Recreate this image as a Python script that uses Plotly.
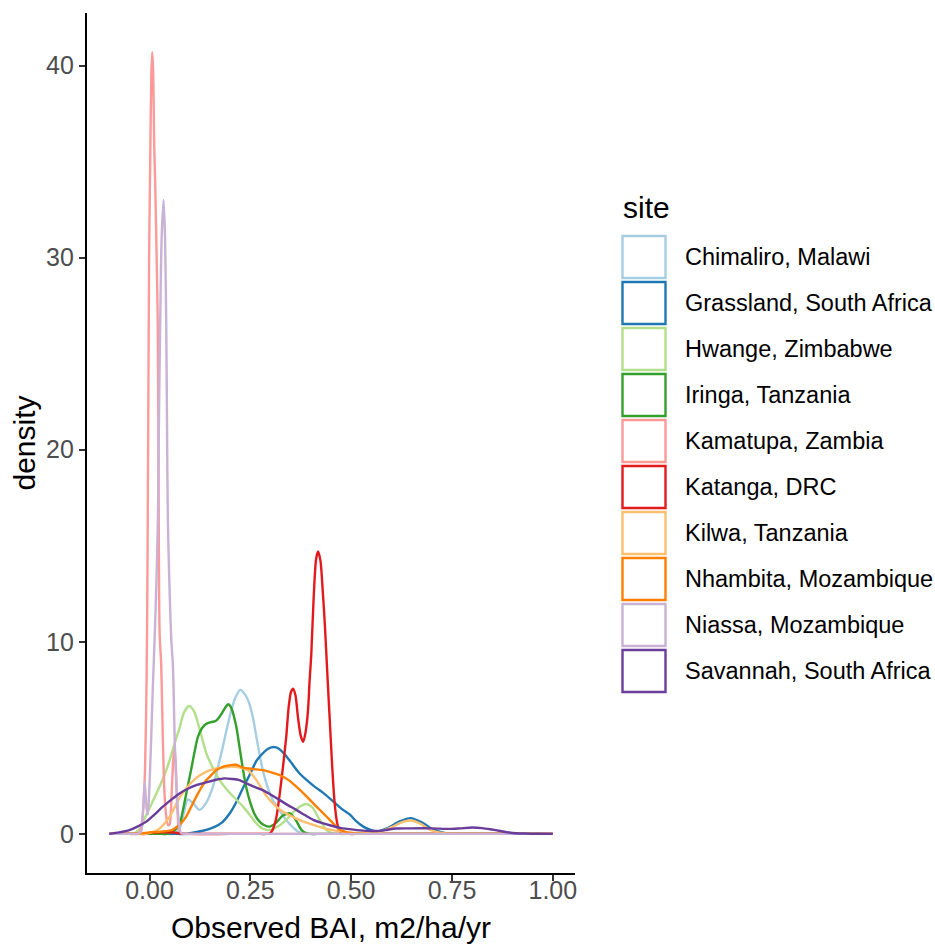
import plotly.graph_objects as go

# ---------------- data ----------------
sites = [
    "Chimaliro, Malawi", "Grassland, South Africa", "Hwange, Zimbabwe",
    "Iringa, Tanzania", "Kamatupa, Zambia", "Katanga, DRC",
    "Kilwa, Tanzania", "Nhambita, Mozambique", "Niassa, Mozambique",
    "Savannah, South Africa",
]
colors = ["#A6CEE3", "#1F78B4", "#B2DF8A", "#33A02C", "#FB9A99",
          "#E31A1C", "#FDBF6F", "#FF7F00", "#CAB2D6", "#6A3D9A"]

chimaliro_x = [-0.1, 0.0, 0.045, 0.06, 0.075, 0.085, 0.095, 0.108, 0.124, 0.14, 0.157, 0.17, 0.182,
               0.193, 0.203, 0.213, 0.225, 0.237, 0.248, 0.257, 0.265, 0.281, 0.295, 0.306, 0.323,
               0.339, 0.355, 0.368, 0.38, 0.395, 0.42, 0.6, 1.0]
chimaliro_y = [0, 0, 0, 0, 0.3, 1.1, 1.8, 1.6, 1.25, 1.6, 2.45, 3.5, 4.55,
               5.6, 6.45, 7.1, 7.5, 7.25, 6.75, 6.0, 5.05, 3.3, 2.3, 1.75, 1.2,
               0.72, 0.35, 0.12, 0.02, 0, 0, 0, 0]

grassland_x = [-0.1, 0.0, 0.07, 0.09, 0.11, 0.13, 0.16, 0.18, 0.2, 0.215, 0.232, 0.248, 0.265,
               0.281, 0.293, 0.306, 0.32, 0.335, 0.35, 0.37, 0.39, 0.41, 0.43, 0.455, 0.48,
               0.497, 0.513, 0.53, 0.55, 0.565, 0.59, 0.62, 0.648, 0.675, 0.704, 0.725, 0.745,
               0.76, 0.8, 1.0]
grassland_y = [0, 0, 0, 0, 0.08, 0.15, 0.35, 0.6, 1.1, 1.65, 2.4, 3.05, 3.8,
               4.2, 4.42, 4.52, 4.45, 4.15, 3.75, 3.2, 2.8, 2.45, 2.15, 1.7, 1.25,
               1.0, 0.65, 0.38, 0.2, 0.13, 0.3, 0.65, 0.82, 0.6, 0.22, 0.08, 0.01,
               0, 0, 0]

hwange_x = [-0.1, -0.07, -0.05, -0.04, -0.025, -0.01, 0.017, 0.035, 0.05, 0.065, 0.0745, 0.085,
            0.098, 0.11, 0.125, 0.141, 0.158, 0.174, 0.19, 0.205, 0.232, 0.25, 0.265, 0.28,
            0.295, 0.315, 0.335, 0.355, 0.375, 0.389, 0.405, 0.42, 0.439, 0.455, 0.47, 0.49,
            0.6, 1.0]
hwange_y = [0, 0, 0, 0, 0.25, 0.9, 2.1, 2.95, 3.84, 4.9, 5.5, 6.3,
            6.66, 6.4, 5.4, 4.19, 3.4, 2.8, 2.35, 2.0, 1.42, 0.95, 0.55, 0.28,
            0.2, 0.35, 0.65, 1.1, 1.45, 1.56, 1.35, 0.8, 0.2, 0.03, 0, 0,
            0, 0]

iringa_x = [-0.1, 0.0, 0.03, 0.045, 0.06, 0.0745, 0.083, 0.093, 0.103, 0.112, 0.12, 0.13, 0.141,
            0.153, 0.164, 0.172, 0.18, 0.187, 0.195, 0.203, 0.215, 0.224, 0.232, 0.24, 0.248,
            0.26, 0.273, 0.285, 0.298, 0.315, 0.33, 0.348, 0.362, 0.377, 0.39, 0.4, 0.415,
            0.6, 1.0]
iringa_y = [0, 0, 0, 0, 0.15, 0.5, 1.25, 2.3, 3.32, 4.3, 5.05, 5.5, 5.74,
            5.82, 5.88, 6.05, 6.3, 6.55, 6.75, 6.55, 5.6, 4.4, 3.32, 2.4, 1.76,
            1.05, 0.64, 0.45, 0.38, 0.6, 0.95, 1.07, 0.75, 0.2, 0.03, 0, 0,
            0, 0]

kamatupa_x = [-0.1, -0.06, -0.04, -0.03, -0.022, -0.016, -0.011, -0.007, -0.005, -0.003, -0.001,
              0.002, 0.0045, 0.0067, 0.009, 0.0115, 0.0145, 0.018, 0.0205, 0.0225, 0.025, 0.029,
              0.033, 0.037, 0.041, 0.046, 0.05, 0.053, 0.056, 0.059, 0.062, 0.065, 0.068, 0.072,
              0.076, 0.082, 0.095, 0.3, 1.0]
kamatupa_y = [0, 0, 0, 0, 0.2, 1.2, 3.5, 8.5, 14, 22, 30,
              35.5, 39.5, 40.7, 39.8, 36, 33.5, 29.6, 26.5, 18, 10.5, 8.8,
              5.0, 2.2, 1.0, 0.45, 0.5, 1.2, 2.6, 3.9, 4.45, 3.7, 1.8, 0.4,
              0.05, 0, 0, 0, 0]

katanga_x = [-0.1, -0.04, -0.02, -0.01, 0.0, 0.03, 0.06, 0.075, 0.09, 0.2, 0.275, 0.29, 0.298,
             0.305, 0.314, 0.323, 0.331, 0.339, 0.345, 0.351, 0.356, 0.362, 0.368, 0.375, 0.381,
             0.387, 0.393, 0.397, 0.401, 0.407, 0.413, 0.418, 0.424, 0.43, 0.435, 0.441, 0.447,
             0.453, 0.459, 0.465, 0.47, 0.477, 0.485, 0.495, 0.52, 0.7, 1.0]
katanga_y = [0, 0, 0, 0, 0.05, 0.08, 0.08, 0.02, 0, 0, 0, 0, 0.02,
             0.2, 0.8, 2.1, 3.5, 5.05, 6.6, 7.4, 7.56, 7.2, 6.09, 5.1, 4.79,
             5.3, 6.43, 8.0, 9.3, 12.3, 14.3, 14.7, 14.2, 12.5, 10.8, 8.3, 5.9,
             3.5, 1.6, 0.6, 0.2, 0.05, 0.01, 0, 0, 0, 0]

kilwa_x = [-0.1, -0.06, -0.03, -0.01, 0.02, 0.05, 0.075, 0.1, 0.125, 0.15, 0.17, 0.2, 0.225,
           0.245, 0.265, 0.29, 0.323, 0.364, 0.406, 0.447, 0.49, 0.53, 0.57, 0.6, 0.625, 0.646,
           0.67, 0.695, 0.72, 0.745, 0.76, 0.8, 1.0]
kilwa_y = [0, 0, 0, 0, 0.2, 0.9, 1.9, 2.6, 3.05, 3.32, 3.42, 3.5, 3.45,
           3.3, 2.8, 1.97, 1.27, 0.8, 0.47, 0.22, 0.08, 0.05, 0.1, 0.35, 0.6, 0.7,
           0.55, 0.22, 0.06, 0.01, 0, 0, 0]

nhambita_x = [-0.1, -0.07, -0.05, -0.04, -0.02, 0.0, 0.03, 0.055, 0.07, 0.08, 0.091, 0.103, 0.116,
              0.128, 0.141, 0.155, 0.166, 0.183, 0.2, 0.215, 0.232, 0.255, 0.281, 0.3, 0.323,
              0.345, 0.364, 0.385, 0.406, 0.427, 0.447, 0.46, 0.472, 0.49, 0.51, 0.54, 0.56,
              0.7, 1.0]
nhambita_y = [0, 0, 0, 0, 0.03, 0.08, 0.12, 0.2, 0.4, 0.6, 0.9, 1.4, 1.94,
              2.4, 2.8, 3.1, 3.32, 3.5, 3.58, 3.6, 3.45, 3.38, 3.32, 3.22, 3.06,
              2.8, 2.46, 2.05, 1.59, 1.15, 0.73, 0.45, 0.22, 0.08, 0.02, 0, 0,
              0, 0]

niassa_x = [-0.1, -0.06, -0.04, -0.03, -0.021, -0.017, -0.0135, -0.012, -0.0095, -0.007, -0.004,
            0.0, 0.004, 0.008, 0.0124, 0.017, 0.0207, 0.0237, 0.0265, 0.03, 0.035, 0.0385,
            0.0414, 0.0435, 0.0455, 0.05, 0.054, 0.058, 0.063, 0.068, 0.073, 0.078, 0.084,
            0.1, 0.3, 1.0]
niassa_y = [0, 0, 0, 0, 0.1, 0.8, 2.2, 2.7, 2.0, 1.3, 1.0,
            2.6, 4.9, 7.5, 10, 13, 16.3, 22, 26.7, 31, 33, 31,
            26.7, 21, 16.3, 12.5, 10.1, 8.8, 4.5, 2.0, 0.6, 0.05, 0,
            0, 0, 0]

savannah_x = [-0.1, -0.075, -0.05, -0.03, -0.008, 0.012, 0.033, 0.055, 0.0745, 0.095, 0.116, 0.145,
              0.165, 0.186, 0.205, 0.223, 0.24, 0.26, 0.281, 0.3, 0.323, 0.343, 0.364, 0.385,
              0.406, 0.427, 0.447, 0.47, 0.49, 0.515, 0.54, 0.563, 0.585, 0.61, 0.65, 0.7,
              0.745, 0.77, 0.8, 0.825, 0.845, 0.87, 0.9, 0.93, 0.96, 1.0]
savannah_y = [0, 0.08, 0.2, 0.38, 0.64, 1.0, 1.42, 1.8, 2.11, 2.35, 2.54, 2.71,
              2.82, 2.89, 2.86, 2.8, 2.63, 2.45, 2.28, 2.05, 1.76, 1.5, 1.25, 0.98,
              0.73, 0.57, 0.45, 0.33, 0.26, 0.2, 0.16, 0.15, 0.2, 0.28, 0.29, 0.29,
              0.26, 0.29, 0.33, 0.3, 0.24, 0.15, 0.05, 0.02, 0.005, 0]

series_x = [chimaliro_x, grassland_x, hwange_x, iringa_x, kamatupa_x,
            katanga_x, kilwa_x, nhambita_x, niassa_x, savannah_x]
series_y = [chimaliro_y, grassland_y, hwange_y, iringa_y, kamatupa_y,
            katanga_y, kilwa_y, nhambita_y, niassa_y, savannah_y]

x_ticks = [0.0, 0.25, 0.5, 0.75, 1.0]
x_tick_labels = ["0.00", "0.25", "0.50", "0.75", "1.00"]
y_ticks = [0, 10, 20, 30, 40]
y_tick_labels = ["0", "10", "20", "30", "40"]

# ---------------- figure ----------------
W, H = 935, 944
L, R, T, B = 87, 575, 13, 873   # plot area in pixels
FONT = "Liberation Sans, Arial, sans-serif"

fig = go.Figure()
for name, xs, ys, col in zip(sites, series_x, series_y, colors):
    fig.add_trace(go.Scatter(
        x=xs, y=ys, mode="lines", name=name, showlegend=False,
        line=dict(color=col, width=2.4, shape="spline", smoothing=0.7),
        hoverinfo="x+y+name",
    ))

ymax = 40.7
fig.update_layout(
    width=W, height=H,
    margin=dict(l=L, r=W - R, t=T, b=H - B, autoexpand=False),
    paper_bgcolor="white", plot_bgcolor="white",
    font=dict(family=FONT, color="black"),
    xaxis=dict(
        range=[-0.155, 1.055], tickvals=x_ticks, ticktext=x_tick_labels,
        showgrid=False, zeroline=False, showline=True, linecolor="black", linewidth=2.4,
        ticks="outside", ticklen=6, tickwidth=2, tickcolor="#333333",
        tickfont=dict(size=25, color="#4D4D4D", family=FONT),
        ticklabelstandoff=-12,
        title=dict(text="Observed BAI, m2/ha/yr", font=dict(size=30, color="black", family=FONT),
                   standoff=14),
        automargin=False,
    ),
    yaxis=dict(
        range=[-0.05 * ymax, 1.05 * ymax], tickvals=y_ticks, ticktext=y_tick_labels,
        showgrid=False, zeroline=False, showline=True, linecolor="black", linewidth=2.4,
        ticks="outside", ticklen=6, tickwidth=2, tickcolor="#333333",
        tickfont=dict(size=25, color="#4D4D4D", family=FONT),
        title=dict(text="density", font=dict(size=30, color="black", family=FONT), standoff=1),
        automargin=False,
    ),
)

# ---------------- legend (drawn as ggplot-style outlined keys) ----------------
def px2paper_x(px):
    return (px - L) / (R - L)

def px2paper_y(py):
    return (B - py) / (B - T)

fig.add_annotation(
    x=px2paper_x(621), y=px2paper_y(207), xref="paper", yref="paper",
    text="site", showarrow=False, xanchor="left", yanchor="middle",
    font=dict(size=30, color="black", family=FONT),
)
key_top, key_step, key_w, key_h = 235, 46, 43, 42
for i, (name, col) in enumerate(zip(sites, colors)):
    y0 = key_top + i * key_step
    fig.add_shape(
        type="rect", xref="paper", yref="paper",
        x0=px2paper_x(622.5), x1=px2paper_x(622.5 + key_w),
        y0=px2paper_y(y0 + 1), y1=px2paper_y(y0 + 1 + key_h),
        line=dict(color=col, width=2.4), fillcolor="white",
    )
    fig.add_annotation(
        x=px2paper_x(683), y=px2paper_y(y0 + 1 + key_h / 2), xref="paper", yref="paper",
        text=name, showarrow=False, xanchor="left", yanchor="middle",
        font=dict(size=23.5, color="black", family=FONT),
    )

fig.write_html(
    "out.html",
    config={"displayModeBar": False},
    post_script="document.body.style.margin='0';document.body.style.overflow='hidden';",
)
